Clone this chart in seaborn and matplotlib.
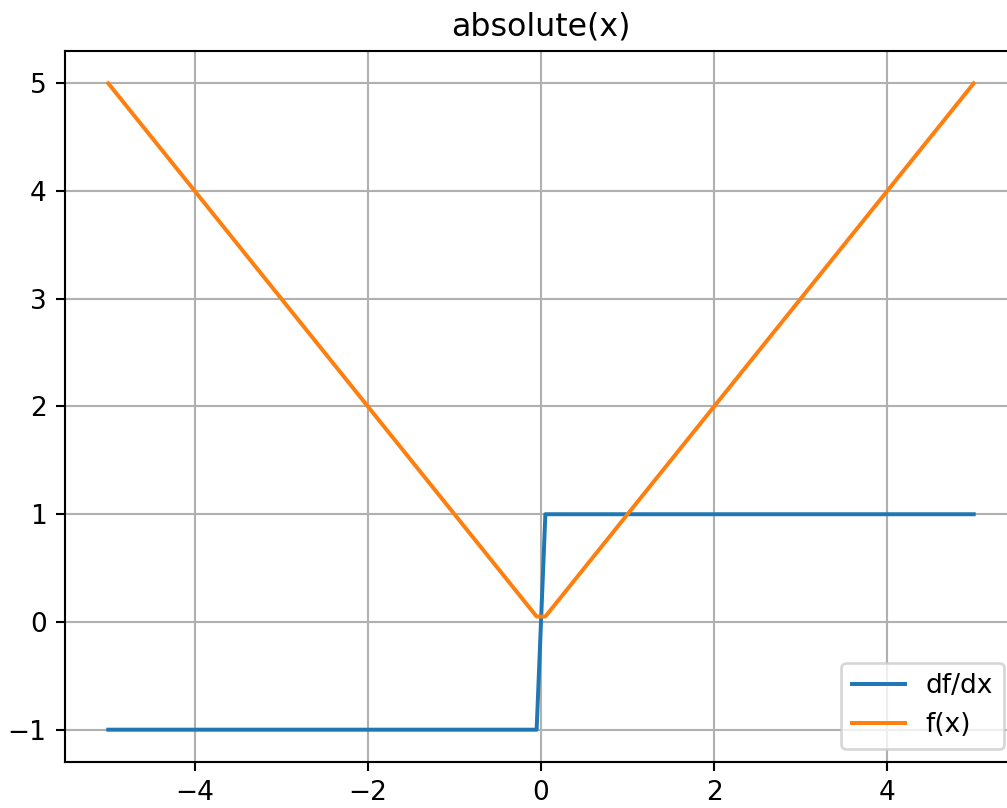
import matplotlib
matplotlib.use("Agg")
import matplotlib.pyplot as plt
import seaborn as sns
import pandas as pd

# Sample points of f(x) = |x| and its derivative (piecewise-linear breakpoints)
x_vals = [-5.0, -0.0505, 0.0505, 5.0]
f_vals = [5.0, 0.0505, 0.0505, 5.0]
df_vals = [-1.0, -1.0, 1.0, 1.0]

data = pd.DataFrame({"x": x_vals, "f": f_vals, "df": df_vals})

DPI = 190
fig = plt.figure(figsize=(1008 / DPI, 808 / DPI), dpi=DPI)
ax = fig.add_axes([65 / 1008, 1 - 762 / 808, (1017 - 65) / 1008, (762 - 51) / 808])

sns.lineplot(data=data, x="x", y="df", label="df/dx", ax=ax, color="C0", sort=False)
sns.lineplot(data=data, x="x", y="f", label="f(x)", ax=ax, color="C1", sort=False)

ax.set_title("absolute(x)")
ax.set_xlabel("")
ax.set_ylabel("")
ax.grid(True)
ax.legend(loc="lower right")

fig.savefig("out.png", dpi=DPI)
